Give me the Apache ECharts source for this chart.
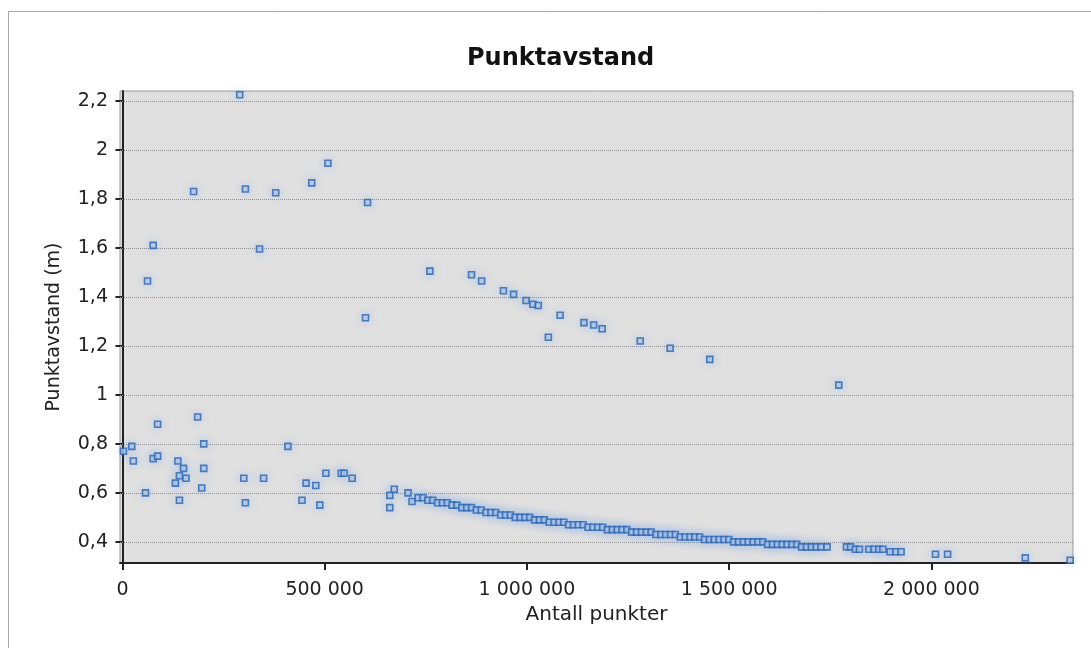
<!DOCTYPE html>
<html>
<head>
<meta charset="utf-8">
<title>Punktavstand</title>
<script src="https://cdn.jsdelivr.net/npm/echarts@6/dist/echarts.min.js"></script>
<style>
html, body { margin: 0; padding: 0; background: #fff; }
#chart { width: 1091px; height: 648px; }
</style>
</head>
<body>
<div id="chart"></div>
<script>
// points, x = antall punkter, y = punktavstand (m)
var lowX = [2500, 23000, 27000, 57000, 76000, 87000, 87000, 131000, 137000, 141000, 141000, 151000, 157000, 186000, 196000, 201000, 201000,
  300000, 304000, 349000, 409000, 444000, 454000, 478000, 488000, 503000, 541000, 548000, 568000, 661000, 661000, 672000, 706000, 716000];
var lowY = [0.77, 0.79, 0.73, 0.60, 0.74, 0.75, 0.88, 0.64, 0.73, 0.67, 0.57, 0.70, 0.66, 0.91, 0.62, 0.80, 0.70,
  0.66, 0.56, 0.66, 0.79, 0.57, 0.64, 0.63, 0.55, 0.68, 0.68, 0.68, 0.66, 0.59, 0.54, 0.615, 0.60, 0.565];

var highX = [62000, 76000, 176000, 290000, 304000, 339000, 379000, 468000, 508000, 601000, 606000];
var highY = [1.465, 1.61, 1.83, 2.225, 1.84, 1.595, 1.825, 1.865, 1.945, 1.315, 1.785];

var midX = [760000, 863000, 888000, 942000, 967000, 998000, 1015000, 1028000, 1053000, 1082000, 1141000, 1165000, 1186000, 1280000, 1354000, 1452000, 1771000];
var midY = [1.505, 1.49, 1.465, 1.425, 1.41, 1.385, 1.37, 1.365, 1.235, 1.325, 1.295, 1.285, 1.27, 1.22, 1.19, 1.145, 1.04];

var curveX = [731000, 743000, 755000, 767000, 779000, 791000, 803000, 815000, 827000, 839000, 851000, 863000, 875000, 887000, 899000, 911000,
  923000, 935000, 947000, 959000, 971000, 983000, 995000, 1007000, 1019000, 1031000, 1043000, 1055000, 1067000, 1079000, 1091000, 1103000,
  1115000, 1127000, 1139000, 1151000, 1163000, 1175000, 1187000, 1199000, 1211000, 1223000, 1235000, 1247000, 1259000, 1271000, 1283000,
  1295000, 1307000, 1319000, 1331000, 1343000, 1355000, 1367000, 1379000, 1391000, 1403000, 1415000, 1427000, 1439000, 1451000, 1463000,
  1475000, 1487000, 1499000, 1511000, 1523000, 1535000, 1547000, 1559000, 1571000, 1583000, 1595000, 1607000, 1619000, 1631000, 1643000,
  1655000, 1667000, 1679000, 1691000, 1703000, 1715000, 1727000];
var curveY = [0.58, 0.58, 0.57, 0.57, 0.56, 0.56, 0.56, 0.55, 0.55, 0.54, 0.54, 0.54, 0.53, 0.53, 0.52, 0.52,
  0.52, 0.51, 0.51, 0.51, 0.50, 0.50, 0.50, 0.50, 0.49, 0.49, 0.49, 0.48, 0.48, 0.48, 0.48, 0.47,
  0.47, 0.47, 0.47, 0.46, 0.46, 0.46, 0.46, 0.45, 0.45, 0.45, 0.45, 0.45, 0.44, 0.44, 0.44,
  0.44, 0.44, 0.43, 0.43, 0.43, 0.43, 0.43, 0.42, 0.42, 0.42, 0.42, 0.42, 0.41, 0.41, 0.41,
  0.41, 0.41, 0.41, 0.40, 0.40, 0.40, 0.40, 0.40, 0.40, 0.40, 0.39, 0.39, 0.39, 0.39, 0.39,
  0.39, 0.39, 0.38, 0.38, 0.38, 0.38, 0.38];

var tailX = [1742000, 1790000, 1800000, 1812000, 1822000, 1845000, 1858000, 1870000, 1880000, 1898000, 1912000, 1925000, 2010000, 2040000, 2232000, 2343000];
var tailY = [0.38, 0.38, 0.38, 0.37, 0.37, 0.37, 0.37, 0.37, 0.37, 0.36, 0.36, 0.36, 0.35, 0.35, 0.335, 0.325];

var xTicks = [0, 500000, 1000000, 1500000, 2000000];
var yTicks = [0.4, 0.6, 0.8, 1, 1.2, 1.4, 1.6, 1.8, 2, 2.2];

function pairs(xs, ys) {
  var out = [];
  for (var i = 0; i < xs.length; i++) out.push([xs[i], ys[i]]);
  return out;
}

var points = [].concat(pairs(lowX, lowY), pairs(highX, highY), pairs(midX, midY), pairs(curveX, curveY), pairs(tailX, tailY));

var font = 'DejaVu Sans';
var chart = echarts.init(document.getElementById('chart'));

chart.setOption({
  animation: false,
  backgroundColor: '#fff',
  graphic: [{
    type: 'rect',
    shape: { x: 8.5, y: 11.5, width: 1200, height: 800 },
    style: { fill: 'none', stroke: '#a8a8a8', lineWidth: 1 },
    silent: true
  }],
  title: {
    text: 'Punktavstand',
    left: 462,
    top: 42,
    textStyle: { fontFamily: font, fontWeight: 'bold', fontSize: 24, color: '#111' }
  },
  grid: {
    left: 120, right: 18, top: 91, bottom: 85,
    show: true,
    backgroundColor: '#e0e0e0',
    borderColor: '#9a9a9a',
    borderWidth: 1
  },
  xAxis: {
    type: 'value',
    min: -6000,
    max: 2350000,
    name: 'Antall punkter',
    nameLocation: 'middle',
    nameGap: 41,
    nameTextStyle: { fontFamily: font, fontSize: 20, color: '#222' },
    axisLine: { show: true, lineStyle: { color: '#222', width: 2 } },
    axisTick: { show: true, length: 7, customValues: xTicks, lineStyle: { color: '#222', width: 2 } },
    axisLabel: {
      customValues: xTicks,
      margin: 18,
      fontFamily: font, fontSize: 19, color: '#222',
      formatter: function (v) { return String(v).replace(/\B(?=(\d{3})+(?!\d))/g, ' '); }
    },
    splitLine: { show: false }
  },
  yAxis: {
    type: 'value',
    min: 0.314,
    max: 2.24,
    name: 'Punktavstand (m)',
    nameLocation: 'middle',
    nameGap: 56,
    nameTextStyle: { fontFamily: font, fontSize: 19, color: '#222' },
    axisLine: { show: true, lineStyle: { color: '#222', width: 2 } },
    axisTick: { show: true, length: 7, customValues: yTicks, lineStyle: { color: '#222', width: 2 } },
    axisLabel: {
      customValues: yTicks,
      margin: 12,
      fontFamily: font, fontSize: 19, color: '#222',
      formatter: function (v) { return String(v).replace('.', ','); }
    },
    splitLine: { show: false }
  },
  series: [{
    type: 'scatter',
    data: points,
    symbol: 'rect',
    symbolSize: 6,
    itemStyle: {
      color: '#b3c8e4',
      borderColor: '#2a62ad',
      borderWidth: 1.6,
      shadowBlur: 8,
      shadowColor: 'rgba(110,170,250,0.45)'
    },
    markLine: {
      silent: true,
      z: 1,
      symbol: 'none',
      label: { show: false },
      lineStyle: { type: 'dotted', color: '#8f8f8f', width: 1 },
      data: yTicks.map(function (t) { return { yAxis: t }; })
    }
  }]
});
</script>
</body>
</html>
